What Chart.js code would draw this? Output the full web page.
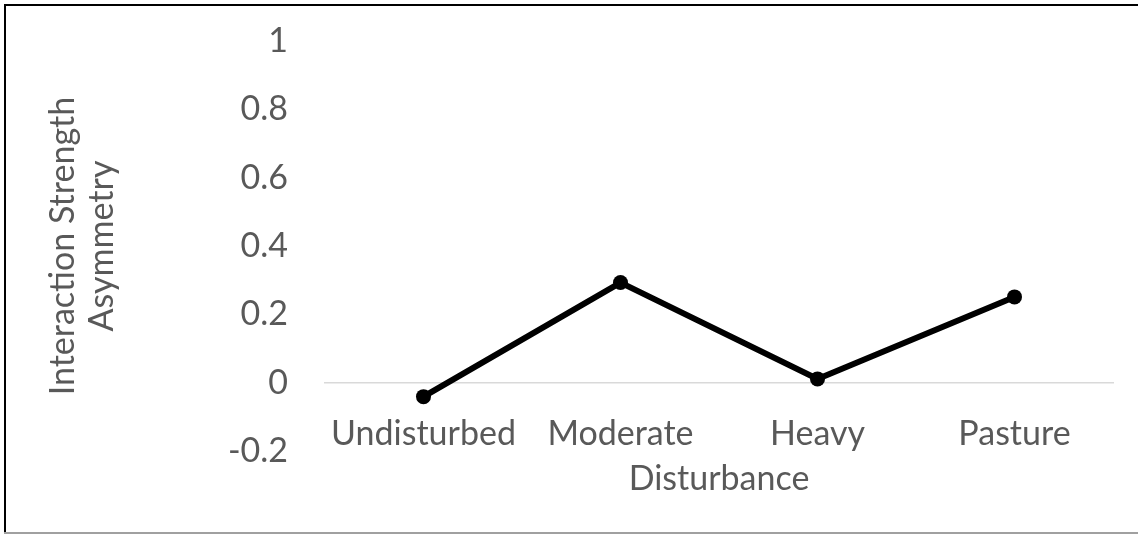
<!DOCTYPE html>
<html>
<head>
<meta charset="utf-8">
<script src="https://cdn.jsdelivr.net/npm/chart.js@4"></script>
<style>
  html, body { margin: 0; padding: 0; background: #fff; }
  #wrap { position: relative; width: 1138px; height: 534px; }
  canvas { display: block; }
</style>
</head>
<body>
<div id="wrap"><canvas id="c" width="1138" height="534"></canvas></div>
<script>
const categories = ["Undisturbed", "Moderate", "Heavy", "Pasture"];
const asymmetry = [-0.041, 0.293, 0.011, 0.251];
const yTickValues = [-0.2, 0, 0.2, 0.4, 0.6, 0.8, 1];
const xAxisTitle = "Disturbance";
const yAxisTitle = ["Interaction Strength", "Asymmetry"];

const FONT = "Lato, 'Open Sans', sans-serif";
const GREY = "#595959";

const frame = {
  id: "frame",
  afterDraw(chart) {
    const ctx = chart.ctx;
    ctx.save();
    ctx.strokeStyle = "#000";
    ctx.lineWidth = 2;
    ctx.beginPath();
    ctx.moveTo(5, 534);
    ctx.lineTo(5, 5);
    ctx.lineTo(1138, 5);
    ctx.stroke();
    ctx.strokeStyle = "#a0a0a0";
    ctx.lineWidth = 2;
    ctx.beginPath();
    ctx.moveTo(4, 533);
    ctx.lineTo(1138, 533);
    ctx.stroke();
    ctx.restore();
  }
};

new Chart(document.getElementById("c"), {
  type: "line",
  data: {
    labels: categories,
    datasets: [{
      data: asymmetry,
      borderColor: "#000",
      backgroundColor: "#000",
      borderWidth: 6,
      pointRadius: 7.5,
      pointBackgroundColor: "#000",
      pointBorderColor: "#000",
      pointBorderWidth: 0,
      tension: 0,
      fill: false
    }]
  },
  options: {
    responsive: false,
    animation: false,
    events: [],
    layout: { padding: { top: 41, bottom: 83, left: 0, right: 25 } },
    plugins: { legend: { display: false }, tooltip: { enabled: false } },
    scales: {
      x: {
        type: "category",
        position: { y: 0 },
        offset: true,
        grid: { display: false, drawTicks: false },
        border: { display: true, color: "#d9d9d9", width: 1.5 },
        ticks: { color: GREY, font: { family: FONT, size: 34 }, padding: 31, maxRotation: 0, autoSkip: false },
        title: { display: true, text: xAxisTitle, color: GREY, font: { family: FONT, size: 34 }, padding: { top: -27, bottom: 0 } }
      },
      y: {
        min: -0.2,
        max: 1,
        afterFit(s) { s.width = 325; s.paddingTop = 0; s.paddingBottom = 0; },
        afterBuildTicks(s) { s.ticks = yTickValues.map(v => ({ value: v })); },
        grid: { display: false, drawTicks: false },
        border: { display: false },
        ticks: {
          color: GREY, font: { family: FONT, size: 34 }, padding: 37,
          callback: v => String(Math.round(v * 10) / 10)
        },
        title: { display: true, text: yAxisTitle, color: GREY, font: { family: FONT, size: 34, lineHeight: 1.15 }, padding: { top: 43, bottom: 0 } }
      }
    }
  },
  plugins: [frame]
});
</script>
</body>
</html>
